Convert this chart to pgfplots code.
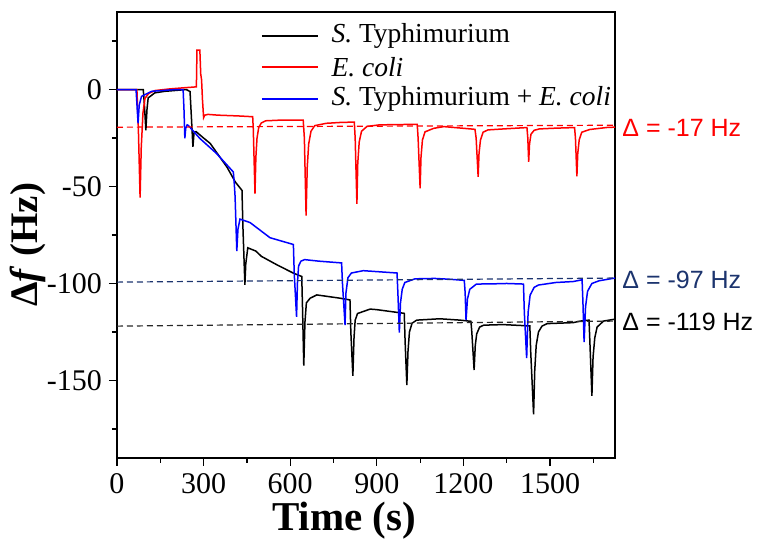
\documentclass[border=0pt]{standalone}
\usepackage{fontspec}
\setmainfont{Liberation Serif}
\newfontfamily\sansf{Liberation Sans}
\usepackage{pgfplots}
\pgfplotsset{compat=1.18}
\definecolor{navy}{RGB}{28,52,110}
\definecolor{dgray}{RGB}{40,40,40}
\begin{document}
\begin{tikzpicture}
\path[use as bounding box] (-58.5pt,-41.5pt) rectangle (320pt,229pt);
\begin{axis}[
  scale only axis, width=249pt, height=223pt,
  xmin=0, xmax=1725, ymin=-190, ymax=40,
  clip=false,
  xtick={0,300,...,1500}, minor xtick={150,450,...,1650},
  ytick={-150,-100,-50,0}, minor ytick={-175,-125,-75,-25,25},
  tick align=outside, xtick pos=bottom, ytick pos=left,
  major tick length=4pt, minor tick length=2.5pt,
  every tick/.style={draw=black, line width=0.6pt},
  axis line style={line width=0.9pt},
  /pgf/number format/assume math mode=true,
  /pgf/number format/1000 sep={},
  tick label style={font=\fontsize{15}{15}\selectfont},
  xticklabel style={inner sep=1pt, yshift=-2.5pt},
  xlabel={\textbf{Time (s)}}, ylabel={\textbf{Δ\textit{f} (Hz)}},
  xlabel style={font=\fontsize{20.5}{21}\selectfont, inner sep=0pt, at={(axis description cs:0.456,-0.141)}, anchor=center},
  ylabel style={font=\fontsize{19.5}{20}\selectfont, at={(axis description cs:-0.178,0.478)}, anchor=center},
  every axis plot/.append style={line width=0.75pt, mark=none},
]
\addplot[draw=black] coordinates {
(0,0)(91,0)(95,-8)(100,-21)(104,-10)(108,-4.3)(131,-1.7)(166,-0.9)(240,0)(253,-1)(258,-15)(263,-29.5)(267,-22)(274,-21.7)(300,-25)(323,-27.8)(381,-40)(410,-47.7)(433,-52)(436,-70)(443,-100.7)(446,-90)(453,-81.6)(481,-83.3)(500,-86)(553,-90.3)(610,-94.6)(640,-96.4)(643,-115)(647,-142.4)(651,-120)(656,-110)(669,-107.6)(692,-105.9)(773,-107.6)(807,-108.5)(810,-125)(817,-147.6)(821,-128)(825,-119)(833,-115.5)(877,-113.2)(900,-113.5)(995,-115.4)(998,-130)(1004,-152.4)(1008,-135)(1013,-125)(1022,-120.5)(1038,-118.9)(1118,-118.2)(1188,-118.9)(1226,-119.5)(1229,-125)(1237,-144.6)(1241,-132)(1246,-126)(1256,-122.5)(1270,-121.5)(1337,-121.2)(1430,-121.9)(1433,-135)(1443,-167.5)(1447,-145)(1452,-132)(1460,-125)(1472,-122)(1490,-120.7)(1580,-120.2)(1605,-119.4)(1635,-118.9)(1638,-130)(1645,-158)(1649,-138)(1655,-128)(1663,-122.5)(1685,-119.4)(1725,-118.4)
};
\addplot[draw=red] coordinates {
(0,0)(69,0)(74,-20)(80,-55.7)(84,-30)(90,-12)(97,-4.5)(110,-2)(132,-0.5)(180,0.3)(230,0.9)(275,1.4)(277,20.3)(287,20.3)(290,8)(293,5)(296,-5)(300,-14.5)(304,-13.2)(315,-12.8)(350,-13.2)(420,-13.6)(470,-14)(472,-20)(478,-53.6)(481,-35)(485,-25)(491,-19.5)(500,-17.2)(515,-16.1)(560,-15.8)(600,-15.7)(645,-15.7)(649,-25)(655,-65)(659,-40)(664,-28)(672,-21.5)(685,-18.6)(725,-17.4)(780,-16.9)(822,-16.8)(825,-25)(831,-59)(834,-38)(839,-27)(847,-21.5)(866,-19)(910,-18.2)(1000,-18)(1040,-18)(1043,-25)(1050,-51)(1053,-35)(1058,-26)(1067,-21.8)(1097,-20)(1132,-19.1)(1240,-20.5)(1244,-25)(1251,-45)(1254,-33)(1259,-26)(1268,-22)(1285,-20.8)(1350,-20.2)(1420,-19.6)(1423,-25)(1426,-37.3)(1429,-28)(1434,-23)(1445,-21)(1463,-20.3)(1520,-19.9)(1585,-19.6)(1588,-25)(1593,-44.8)(1596,-33)(1601,-26)(1610,-22)(1637,-20.6)(1700,-19.5)(1725,-19.4)
};
\addplot[draw=blue] coordinates {
(0,0)(66,0)(73,-17.4)(77,-8)(85,-3.5)(120,-0.9)(200,0)(229,0)(232,-10)(235,-25.2)(238,-20)(243,-18.2)(247,-18.5)(287,-25.2)(345,-33)(403,-42.5)(406,-48)(409,-55)(415,-83.3)(419,-72)(426,-66.8)(461,-68.6)(530,-76.4)(611,-79.9)(614,-95)(622,-117.2)(625,-100)(629,-91)(637,-88.5)(650,-87.7)(700,-88.5)(778,-89.4)(781,-100)(790,-121.5)(793,-105)(800,-97)(812,-94.6)(853,-93.4)(970,-94.6)(973,-105)(978,-125.3)(982,-110)(988,-103)(997,-99.5)(1032,-97.6)(1100,-97.4)(1150,-97.8)(1203,-98.4)(1206,-105)(1209,-118.9)(1214,-108)(1222,-103)(1245,-100.3)(1300,-100.2)(1350,-100)(1408,-100.3)(1411,-115)(1419,-138.5)(1424,-115)(1431,-106)(1445,-102)(1460,-100.8)(1520,-99.5)(1580,-99)(1611,-98.1)(1614,-110)(1618,-130.2)(1623,-112)(1630,-104)(1645,-100)(1670,-98.6)(1725,-97.2)
};
\addplot[draw=red, line width=0.6pt, dash pattern=on 3pt off 2pt] coordinates {(0,-19.4)(1725,-18.4)};
\addplot[draw=navy, dash pattern=on 3pt off 2pt, line width=0.6pt] coordinates {(0,-99.3)(1725,-97.2)};
\addplot[draw=dgray, dash pattern=on 3pt off 2pt, line width=0.6pt] coordinates {(0,-122)(1725,-119.4)};
% legend
\draw[draw=black, line width=0.75pt] (axis description cs:0.291,0.946) -- ++(28pt,0pt);
\draw[draw=red, line width=0.75pt] (axis description cs:0.291,0.877) -- ++(28pt,0pt);
\draw[draw=blue, line width=0.75pt] (axis description cs:0.291,0.805) -- ++(28pt,0pt);
\node[anchor=west, inner sep=0pt, font=\fontsize{13.75}{15}\selectfont] at (axis description cs:0.43,0.946) {\textit{S.} Typhimurium};
\node[anchor=west, inner sep=0pt, font=\fontsize{13.75}{15}\selectfont] at (axis description cs:0.43,0.877) {\textit{E. coli}};
\node[anchor=west, inner sep=0pt, font=\fontsize{13.75}{15}\selectfont] at (axis description cs:0.43,0.805) {\textit{S.} Typhimurium + \textit{E. coli}};
% annotations
\node[anchor=west, text=red, font=\sansf\fontsize{12.5}{13}\selectfont, inner sep=0pt] at (axis cs:1725,-19.8) {\hspace{3.5pt}Δ = -17 Hz};
\node[anchor=west, text=navy, font=\sansf\fontsize{12.5}{13}\selectfont, inner sep=0pt] at (axis cs:1725,-97.9) {\hspace{3.5pt}Δ = -97 Hz};
\node[anchor=west, text=black, font=\sansf\fontsize{12.5}{13}\selectfont, inner sep=0pt] at (axis cs:1725,-119.8) {\hspace{3.5pt}Δ = -119 Hz};
\end{axis}
\end{tikzpicture}
\end{document}
